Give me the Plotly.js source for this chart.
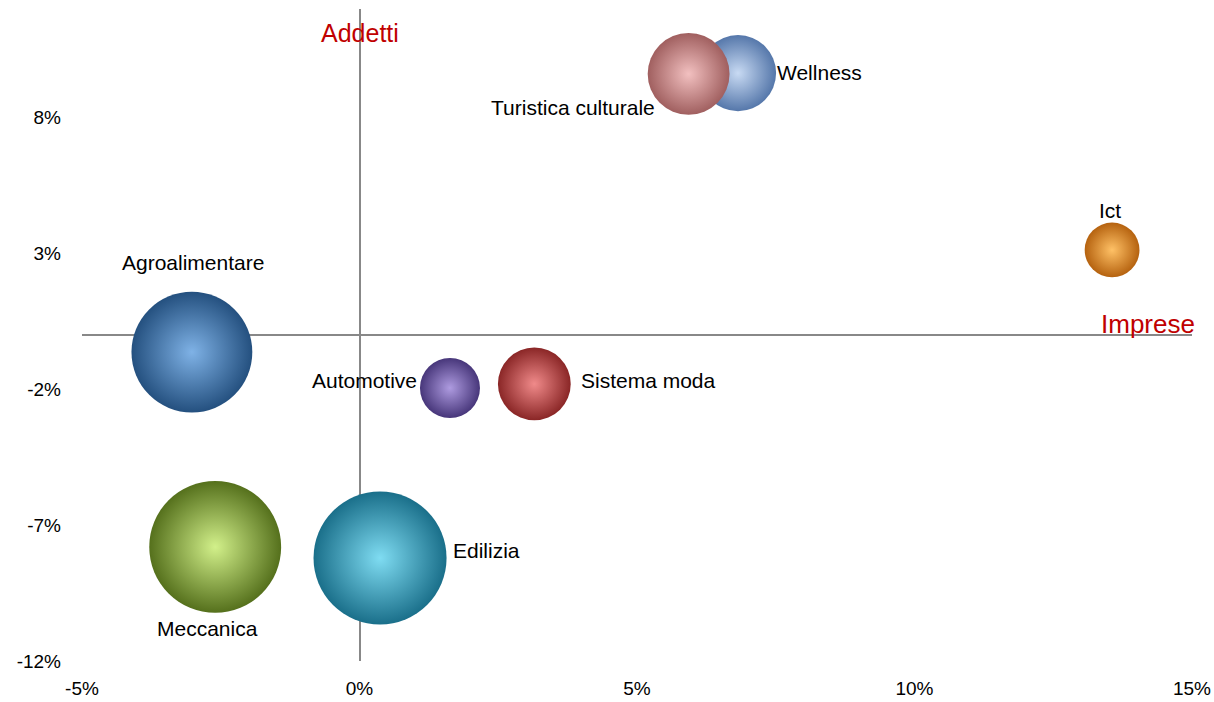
<!DOCTYPE html>
<html>
<head>
<meta charset="utf-8">
<script src="https://cdn.plot.ly/plotly-3.0.1.min.js"></script>
<style>html,body{margin:0;padding:0;background:#fff;}#chart{width:1214px;height:702px;}</style>
</head>
<body>
<div id="chart"></div>
<script>
// Data (x: Imprese %, y: Addetti %, size: bubble weight)
const sectors = ["Agroalimentare", "Meccanica", "Edilizia", "Automotive", "Sistema moda", "Wellness", "Turistica culturale", "Ict"];
const imprese = [-3.02, -2.60, 0.37, 1.63, 3.15, 6.82, 5.93, 13.56];
const addetti = [-0.63, -7.80, -8.21, -1.95, -1.80, 9.64, 9.61, 3.13];
const weights = [146, 174, 177, 36, 53, 58, 67, 30];
const xTicks = [-5, 0, 5, 10, 15];
const yTicks = [-12, -7, -2, 3, 8];

// Styling
const edgeColors = ["#24507f", "#55701c", "#1a6f8a", "#47367a", "#8a2626", "#5577aa", "#a05f5f", "#b5620f"];
const centerColors = ["#7fb2e6", "#d2f08a", "#7fdcf2", "#ae9be0", "#f08a8a", "#c8daf3", "#f2c0c0", "#ffc166"];
const labelPos = [
  {xa: "center", ya: "middle", dx: 1, dy: 90},
  {xa: "center", ya: "middle", dx: -8, dy: -82},
  {xa: "left", ya: "middle", dx: 71, dy: 8},
  {xa: "right", ya: "middle", dx: -31, dy: 7},
  {xa: "left", ya: "middle", dx: 45, dy: 3},
  {xa: "left", ya: "middle", dx: 37, dy: 1},
  {xa: "right", ya: "middle", dx: -32, dy: -34},
  {xa: "center", ya: "middle", dx: -2, dy: 39}
];

const trace = {
  type: "scatter",
  mode: "markers",
  x: imprese,
  y: addetti,
  text: sectors,
  hoverinfo: "text",
  marker: {
    size: weights,
    sizemode: "area",
    sizeref: 0.02,
    color: edgeColors,
    line: {width: 0},
    opacity: 1,
    gradient: {type: "radial", color: centerColors}
  }
};

const annotations = sectors.map((s, i) => ({
  x: imprese[i], y: addetti[i], xref: "x", yref: "y",
  text: s, showarrow: false,
  xanchor: labelPos[i].xa, yanchor: labelPos[i].ya,
  xshift: labelPos[i].dx, yshift: labelPos[i].dy,
  font: {family: "Liberation Sans, Arial, sans-serif", size: 21, color: "#000"}
}));
annotations.push({
  x: 0, y: 0.963, xref: "x", yref: "paper", text: "Addetti", showarrow: false,
  xanchor: "center", yanchor: "middle",
  font: {family: "Liberation Sans, Arial, sans-serif", size: 25, color: "#c00000"}
});
annotations.push({
  x: 1, y: 0, xref: "paper", yref: "y", text: "Imprese", showarrow: false,
  xanchor: "right", yanchor: "middle", xshift: 5, yshift: 11,
  font: {family: "Liberation Sans, Arial, sans-serif", size: 26, color: "#c00000"}
});

const layout = {
  width: 1214, height: 702,
  margin: {l: 82, r: 22, t: 9, b: 41, pad: 0},
  paper_bgcolor: "#fff", plot_bgcolor: "#fff",
  showlegend: false,
  font: {family: "Liberation Sans, Arial, sans-serif", size: 19, color: "#000"},
  xaxis: {
    range: [-5, 15], tickvals: xTicks, ticktext: xTicks.map(v => v + "%"),
    showgrid: false, showline: false, ticks: "",
    zeroline: true, zerolinecolor: "#888", zerolinewidth: 2,
    ticklabelstandoff: 14, automargin: false,
    tickfont: {size: 19, color: "#000"}
  },
  yaxis: {
    range: [-12, 12], tickvals: yTicks, ticktext: yTicks.map(v => v + "%"),
    showgrid: false, showline: false, ticks: "",
    zeroline: true, zerolinecolor: "#888", zerolinewidth: 2,
    ticklabelstandoff: 20, automargin: false,
    tickfont: {size: 19, color: "#000"}
  },
  annotations: annotations
};

Plotly.newPlot("chart", [trace], layout, {displayModeBar: false, staticPlot: true});
</script>
</body>
</html>
